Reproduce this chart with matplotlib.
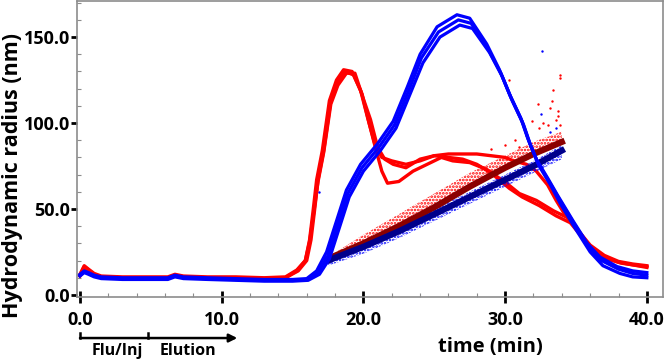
import matplotlib
matplotlib.use("Agg")
import matplotlib.pyplot as plt
import matplotlib.transforms as mtransforms
from matplotlib.ticker import MultipleLocator, FormatStrFormatter

plt.rcParams['font.family'] = ['Open Sans', 'DejaVu Sans']
plt.rcParams['font.weight'] = 'bold'
plt.rcParams['hatch.linewidth'] = 1.3

# red replicate traces (time in min, radius in nm)
red_t1 = [0, 0.3, 0.6, 1.0, 1.5, 3, 5, 6.2, 6.7, 7.3, 9, 11, 13, 14.5, 15.3, 15.9, 16.2, 16.45, 16.7, 17.1,
          17.6, 18.1, 18.6, 19.2, 19.8, 20.3, 20.8, 21.3, 22.0, 23.0, 24.0, 25.0, 26.0, 27.0, 28.0, 29.0,
          30.0, 30.6, 31.5, 32.2, 33.0, 33.6, 34.2, 35.0, 36.0, 37.0, 38.0, 39.0, 40.0]
red_y1 = [12, 17, 15, 12.5, 11, 10.5, 10.5, 10.5, 12, 11, 10.5, 10.5, 10, 10.5, 14.5, 20, 32, 49, 67, 84,
          113, 125, 131, 130, 119, 103, 88, 80, 78, 76, 78, 81, 82, 82, 82, 81,
          80, 78, 76, 72, 64, 55, 47, 39, 29, 23, 19.5, 18, 17]
red_t2 = [0, 0.3, 0.6, 1.0, 1.5, 3, 5, 6.2, 6.7, 7.3, 9, 11, 13, 14.5, 15.4, 16.0, 16.3, 16.55, 16.8, 17.2,
          17.7, 18.2, 18.7, 19.3, 19.9, 20.4, 20.9, 21.3, 21.7, 22.5, 23.5, 24.5, 25.5, 26.3, 27.5, 28.7,
          30.1, 31.0, 32.2, 33.4, 34.4, 35.2, 36.0, 37.0, 38.0, 39.0, 40.0]
red_y2 = [11, 16, 14.5, 12, 10.5, 10, 10, 10, 11.5, 10.5, 10, 10, 9.5, 10, 14, 20, 32, 49, 67, 84,
          113, 124, 130, 128, 117, 100, 84, 72, 65, 66, 72, 76, 80, 78, 77, 73,
          65, 59, 55, 49, 45, 37, 28, 22, 19, 17.5, 16.5]
red_t3 = [0, 0.3, 0.6, 1.0, 1.5, 3, 5, 6.2, 6.7, 7.3, 9, 11, 13, 14.5, 15.3, 15.9, 16.2, 16.5, 16.8, 17.2,
          17.7, 18.2, 18.8, 19.4, 20.0, 20.5, 21.0, 21.5, 22.1, 23.0, 24.0, 25.0, 26.0, 27.0, 28.0, 29.0,
          30.3, 31.2, 32.4, 33.6, 34.6, 35.4, 36.2, 37.2, 38.2, 39.0, 40.0]
red_y3 = [11.5, 16.5, 14.5, 12, 10.5, 10, 10, 10, 11.5, 10.5, 10, 10, 9.5, 10, 14, 20, 31, 48, 66, 83,
          111, 122, 129, 129, 114, 102, 86, 79, 76, 74, 79, 81, 80, 79, 76, 71,
          62, 57, 52, 46, 42, 34, 26, 21, 18.5, 17.5, 16]

# blue replicate traces
blue_t1 = [0, 0.3, 0.6, 1.0, 1.5, 3, 5, 6.2, 6.7, 7.3, 9, 11, 13, 15, 16.0, 16.7, 17.4, 18.1, 18.8, 19.8,
           21.0, 22.1, 23.1, 24.0, 25.2, 26.6, 27.5, 28.7, 29.6, 30.3, 31.1, 31.6, 32.2, 33.0, 33.7,
           34.8, 35.8, 36.7, 37.9, 39.0, 40.0]
blue_y1 = [12, 14, 13, 11.5, 10.5, 10, 10, 10, 11.5, 10.5, 10, 9.5, 9, 9, 9.5, 14, 25, 43, 61, 76,
           88, 101, 121, 140, 156, 163, 161, 146, 131, 117, 103, 91, 79, 68, 58,
           43, 30, 22, 16.5, 14, 13]
blue_t2 = [0, 0.3, 0.6, 1.0, 1.5, 3, 5, 6.2, 6.7, 7.3, 9, 11, 13, 15, 16.0, 16.8, 17.5, 18.2, 18.9, 19.9,
           21.1, 22.2, 23.2, 24.1, 25.3, 26.7, 27.6, 28.8, 29.7, 30.4, 31.2, 31.7, 32.3, 33.1, 33.8,
           34.9, 35.9, 36.8, 38.0, 39.0, 40.0]
blue_y2 = [11.5, 13.5, 12.5, 11, 10, 9.5, 9.5, 9.5, 11, 10, 9.5, 9, 8.5, 8.5, 9, 13, 23, 41, 59, 74,
           86, 99, 119, 138, 153, 160, 158, 143, 129, 115, 101, 89, 77, 66, 56,
           41, 28, 20, 15, 12.5, 11.5]
blue_t3 = [0, 0.3, 0.6, 1.0, 1.5, 3, 5, 6.2, 6.7, 7.3, 9, 11, 13, 15, 16.1, 16.9, 17.6, 18.3, 19.0, 20.0,
           21.2, 22.3, 23.3, 24.2, 25.4, 26.8, 27.7, 28.9, 29.8, 30.5, 31.3, 31.8, 32.4, 33.2, 33.9,
           35.0, 36.0, 36.9, 38.1, 39.0, 40.0]
blue_y3 = [11, 13, 12, 10.5, 9.5, 9, 9, 9, 10.5, 9.5, 9, 8.5, 8, 8, 8.5, 12, 21, 39, 57, 72,
           84, 97, 117, 135, 150, 157, 155, 141, 127, 113, 99, 87, 75, 64, 53,
           38, 25, 17, 12.5, 10.5, 10]

# rising trend lines and their scatter bands
trend_t = [17.5, 20, 22.5, 25, 27.5, 30, 32, 34]
dark_red_y = [21, 30, 40, 51, 63, 74, 82, 89]
dark_blue_y = [20, 28, 37, 47, 57, 67, 75, 84]
red_band_hi = [22, 35, 47, 59, 71, 81, 89, 95]
blue_band_lo = [17, 24, 33, 43, 53, 63, 71, 79]
blue_band_hi = [22, 31, 40, 50, 60, 70, 78, 87]

# stray points
red_out_t = [30.3, 33.9, 33.85, 33.4, 32.3, 33.3, 33.2, 33.7, 31.9, 32.7, 33.6, 30.0, 30.7, 31.0, 32.4, 33.0, 33.9, 33.7, 29.0, 31.5]
red_out_y = [125, 128, 126, 119, 111, 113, 109, 107, 101, 100, 102, 87, 90, 86, 97, 99, 99, 104, 85, 93]
blue_out_t = [32.6, 32.5, 33.2, 33.6, 16.9]
blue_out_y = [142, 105, 95, 97, 60]

fig = plt.figure(figsize=(6.64, 3.6), dpi=100)
ax = fig.add_axes([77 / 664, 63 / 360, 586 / 664, 296 / 360])

red = '#ff0000'
blue = '#0000ff'

for t, y in [(red_t1, red_y1), (red_t2, red_y2), (red_t3, red_y3)]:
    ax.plot(t, y, color=red, lw=2.4, solid_joinstyle='round', zorder=2)

ax.fill_between(trend_t, dark_red_y, red_band_hi, facecolor='none', edgecolor=red,
                hatch='.....', linewidth=0, zorder=3)
ax.fill_between(trend_t, blue_band_lo, blue_band_hi, facecolor='none', edgecolor=blue,
                hatch='.....', linewidth=0, zorder=3)
ax.plot(trend_t, dark_red_y, color='#8b0000', lw=4.5, zorder=4)
ax.plot(trend_t, dark_blue_y, color='#00008b', lw=4.5, zorder=4)
ax.scatter(red_out_t, red_out_y, s=3, color=red, lw=0, zorder=4)
ax.scatter(blue_out_t, blue_out_y, s=3, color=blue, lw=0, zorder=4)

for t, y in [(blue_t1, blue_y1), (blue_t2, blue_y2), (blue_t3, blue_y3)]:
    ax.plot(t, y, color=blue, lw=2.3, solid_joinstyle='round', zorder=5)

ax.set_xlim(-0.21, 41.14)
ax.set_ylim(-1.2, 171)

for s in ax.spines.values():
    s.set_color('#8c8c8c')
    s.set_linewidth(1.2)

ax.xaxis.set_major_locator(MultipleLocator(10))
ax.xaxis.set_minor_locator(MultipleLocator(2))
ax.yaxis.set_major_locator(MultipleLocator(50))
ax.yaxis.set_minor_locator(MultipleLocator(10))
ax.xaxis.set_major_formatter(FormatStrFormatter('%.1f'))
ax.yaxis.set_major_formatter(FormatStrFormatter('%.1f'))
ax.tick_params(axis='x', which='major', direction='inout', length=8, width=2, color='black',
               labelsize=13, pad=6)
ax.tick_params(axis='y', which='major', direction='out', length=4, width=2, color='black',
               labelsize=13, pad=1)
ax.tick_params(which='minor', direction='in', length=3, width=0.8, color='#8c8c8c')
for lab in ax.get_xticklabels() + ax.get_yticklabels():
    lab.set_fontweight('bold')

ax.set_xlabel('time (min)', fontsize=14.5, fontweight='bold')
ax.xaxis.set_label_coords(0.705, -0.135)
ax.set_ylabel('Hydrodynamic radius (nm)', fontsize=15.5, fontweight='bold')
ax.yaxis.set_label_coords(-0.093, 0.41)

# run phase arrow below the axis
trans = mtransforms.blended_transform_factory(ax.transData, fig.transFigure)
ax.annotate('', xy=(11.1, 0.061), xytext=(0, 0.061), xycoords=trans, textcoords=trans,
            arrowprops=dict(arrowstyle='-|>', color='black', lw=1.8, mutation_scale=12,
                            shrinkA=0, shrinkB=0), annotation_clip=False)
for xv in [0, 4.8]:
    ax.plot([xv, xv], [0.061, 0.075], color='black', lw=1.8, transform=trans, clip_on=False)
ax.text(2.6, 0.024, 'Flu/Inj', transform=trans, ha='center', va='center', fontsize=11.5, fontweight='bold')
ax.text(7.6, 0.024, 'Elution', transform=trans, ha='center', va='center', fontsize=11.5, fontweight='bold')

fig.savefig('out.png', dpi=100)
